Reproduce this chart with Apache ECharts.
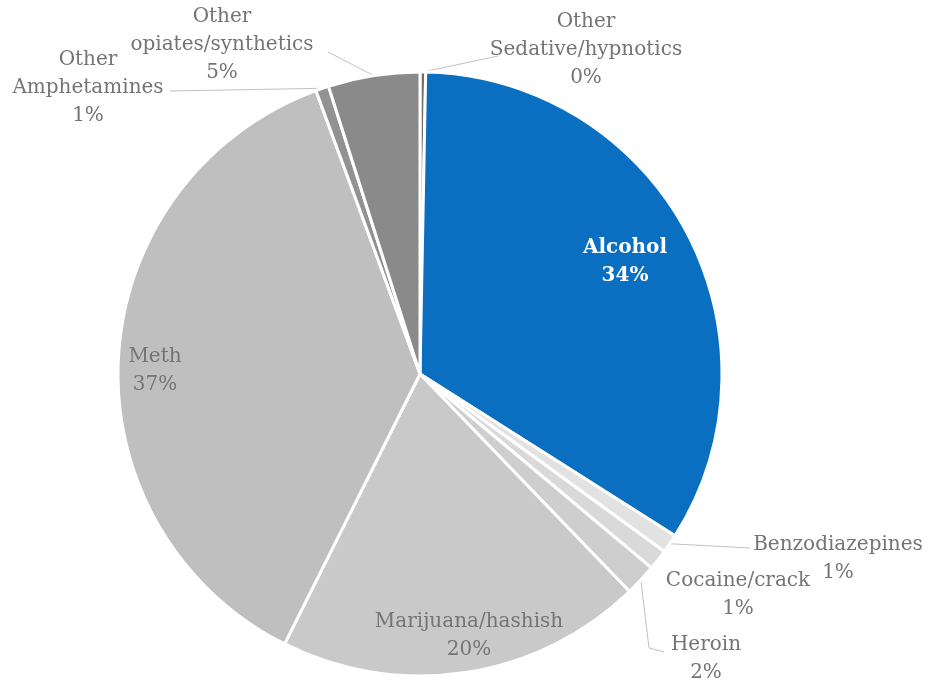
<!DOCTYPE html>
<html>
<head>
<meta charset="utf-8">
<script src="https://cdn.jsdelivr.net/npm/echarts@6/dist/echarts.min.js"></script>
<style>
  html, body { margin: 0; padding: 0; background: #ffffff; }
  #chart { width: 929px; height: 685px; }
</style>
</head>
<body>
<div id="chart"></div>
<script>
// Share of admissions by primary substance (percent)
const categories = [
  'Other\nSedative/hypnotics',
  'Alcohol',
  'Benzodiazepines',
  'Cocaine/crack',
  'Heroin',
  'Marijuana/hashish',
  'Meth',
  'Other\nAmphetamines',
  'Other\nopiates/synthetics'
];
const shares = [0.3, 33.7, 1.0, 1.1, 1.7, 19.6, 37.0, 0.7, 4.9];

const sliceColors = ['#6f6f6f', '#0b6fc1', '#e2e2e2', '#d9d9d9', '#cecece', '#c9c9c9', '#bfbfbf', '#929292', '#8a8a8a'];

// Label placement: centre of each label block, optional leader bend/end points
const labelSpots = [
  { x: 586, y: 50, line: [[498, 56]] },
  { x: 625, y: 262, inside: true },
  { x: 838, y: 559, line: [[750, 548]] },
  { x: 738, y: 595 },
  { x: 706, y: 659, line: [[649, 648], [664, 652]] },
  { x: 469, y: 636, inside: true },
  { x: 155, y: 371, inside: true },
  { x: 88, y: 88, line: [[170, 91]] },
  { x: 222, y: 45, line: [[328, 52]] }
];

const chart = echarts.init(document.getElementById('chart'), null, { renderer: 'canvas' });

const seriesData = categories.map((name, i) => ({
  name: name,
  value: shares[i],
  itemStyle: { color: sliceColors[i] },
  label: name === 'Alcohol'
    ? { color: '#ffffff', fontWeight: 'bold' }
    : {},
  labelLine: { show: !!labelSpots[i].line }
}));

chart.setOption({
  backgroundColor: '#ffffff',
  animation: false,
  series: [{
    type: 'pie',
    center: [420, 374],
    radius: 302,
    startAngle: 90,
    clockwise: true,
    avoidLabelOverlap: false,
    itemStyle: { borderColor: '#ffffff', borderWidth: 3 },
    label: {
      show: true,
      position: 'outside',
      fontFamily: 'DejaVu Serif',
      fontSize: 20,
      lineHeight: 28,
      color: '#747474',
      align: 'center',
      formatter: p => p.name + '\n' + Math.round(p.value) + '%'
    },
    labelLine: {
      show: true,
      lineStyle: { color: '#c2c2c2', width: 1 }
    },
    labelLayout: function (p) {
      const spot = labelSpots[p.dataIndex];
      const out = { x: spot.x, y: spot.y, align: 'center', verticalAlign: 'middle' };
      if (spot.line && p.labelLinePoints) {
        out.labelLinePoints = [p.labelLinePoints[0]].concat(spot.line);
      }
      return out;
    },
    data: seriesData
  }]
});
</script>
</body>
</html>
